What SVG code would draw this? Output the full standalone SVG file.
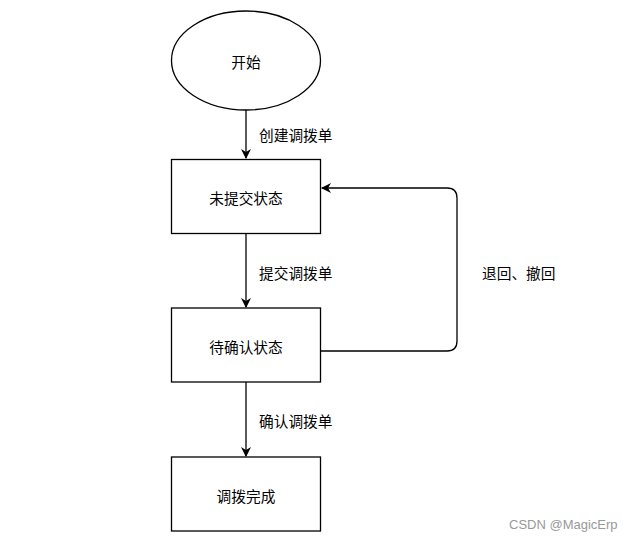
<svg xmlns="http://www.w3.org/2000/svg" width="631" height="541" viewBox="0 0 631 541">
<defs>
<style>
.n{fill:#fff;stroke:#000;stroke-width:1.3}
.t{font-family:"Noto Sans CJK SC","Microsoft YaHei",sans-serif;font-size:14.7px;fill:#000}
.c{text-anchor:middle;dominant-baseline:central}
.l{dominant-baseline:central}
.e{fill:none;stroke:#000;stroke-width:1.3}
</style>
<marker id="a" viewBox="0 0 10 10" refX="9" refY="5" markerWidth="10" markerHeight="10" markerUnits="userSpaceOnUse" orient="auto">
<path d="M0,0 L10,5 L0,10 L3,5 Z" fill="#000"/>
</marker>
</defs>
<rect width="631" height="541" fill="#fff"/>
<g id="start">
<ellipse class="n" cx="246" cy="60.5" rx="74.5" ry="49.5"/>
<text class="t c" x="246" y="61">开始</text>
</g>
<g id="unsubmitted">
<rect class="n" x="171.5" y="159.5" width="149" height="74"/>
<text class="t c" x="246" y="197.5">未提交状态</text>
</g>
<g id="pending">
<rect class="n" x="171.5" y="308" width="149" height="74"/>
<text class="t c" x="246" y="346.5">待确认状态</text>
</g>
<g id="done">
<rect class="n" x="171.5" y="457" width="149" height="74"/>
<text class="t c" x="246" y="495">调拨完成</text>
</g>
<g id="connectors">
<path class="e" d="M246,110 V158" marker-end="url(#a)"/>
<path class="e" d="M246,233.5 V307" marker-end="url(#a)"/>
<path class="e" d="M246,382 V456" marker-end="url(#a)"/>
<path class="e" d="M320.5,351 H447 Q457,351 457,341 V198 Q457,188 447,188 H322" marker-end="url(#a)"/>
<text class="t l" x="259" y="134">创建调拨单</text>
<text class="t l" x="259" y="272">提交调拨单</text>
<text class="t l" x="259" y="420">确认调拨单</text>
<text class="t l" x="482" y="272">退回、撤回</text>
</g>
<text x="509" y="524" font-family="Liberation Sans,Arial,sans-serif" font-size="13" fill="#999" dominant-baseline="central">CSDN @MagicErp</text>
</svg>
